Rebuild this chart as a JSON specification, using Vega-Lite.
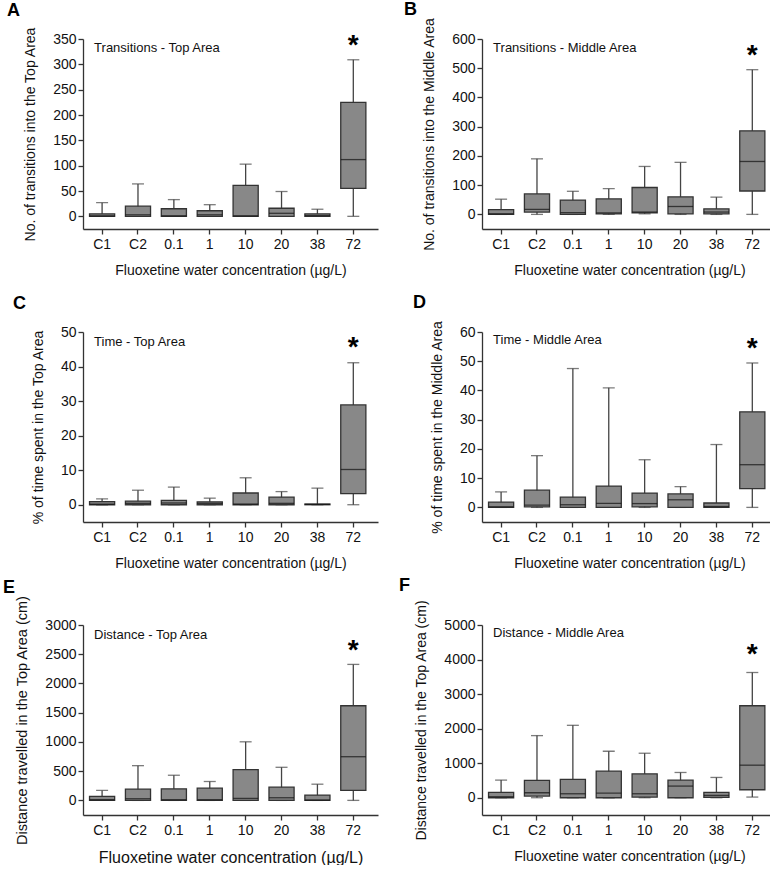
{
"$schema": "https://vega.github.io/schema/vega-lite/v6.json",
"padding": {"left": 3, "top": 1, "right": 0, "bottom": 0},
"background": "white",
"columns": 2,
"bounds": "flush",
"spacing": {"row": 103, "column": 104},
"datasets": {
"A": [
{"group":"C1","min":0,"q1":0,"median":1,"q3":5,"max":27},
{"group":"C2","min":0,"q1":0,"median":3,"q3":20,"max":64},
{"group":"0.1","min":0,"q1":0,"median":1,"q3":15,"max":33},
{"group":"1","min":0,"q1":0,"median":3,"q3":11,"max":23},
{"group":"10","min":0,"q1":0,"median":1,"q3":61,"max":103},
{"group":"20","min":0,"q1":0,"median":6,"q3":16,"max":49},
{"group":"38","min":0,"q1":0,"median":1.5,"q3":5,"max":14},
{"group":"72","min":0,"q1":55,"median":112,"q3":225,"max":309}
],
"B": [
{"group":"C1","min":0,"q1":0,"median":2,"q3":16,"max":52},
{"group":"C2","min":0,"q1":8,"median":17,"q3":70,"max":190},
{"group":"0.1","min":0,"q1":0,"median":6,"q3":49,"max":79},
{"group":"1","min":0,"q1":2,"median":5,"q3":53,"max":88},
{"group":"10","min":2,"q1":5,"median":8,"q3":92,"max":164},
{"group":"20","min":0,"q1":2,"median":27,"q3":60,"max":178},
{"group":"38","min":0,"q1":2,"median":8,"q3":19,"max":59},
{"group":"72","min":0,"q1":80,"median":181,"q3":286,"max":495}
],
"C": [
{"group":"C1","min":0,"q1":0,"median":0.2,"q3":0.9,"max":1.7},
{"group":"C2","min":0,"q1":0,"median":0.4,"q3":1.05,"max":4.2},
{"group":"0.1","min":0,"q1":0,"median":0.5,"q3":1.25,"max":5.1},
{"group":"1","min":0,"q1":0,"median":0.4,"q3":0.85,"max":1.9},
{"group":"10","min":0,"q1":0,"median":0.2,"q3":3.4,"max":7.8},
{"group":"20","min":0,"q1":0,"median":0.4,"q3":2.2,"max":3.8},
{"group":"38","min":0,"q1":0,"median":0.1,"q3":0.2,"max":4.8},
{"group":"72","min":0,"q1":3.2,"median":10.2,"q3":28.9,"max":41.1}
],
"D": [
{"group":"C1","min":0,"q1":0,"median":0.2,"q3":1.8,"max":5.3},
{"group":"C2","min":0,"q1":0.2,"median":0.8,"q3":5.9,"max":17.7},
{"group":"0.1","min":0,"q1":0,"median":0.9,"q3":3.5,"max":47.5},
{"group":"1","min":0,"q1":0,"median":1.4,"q3":7.3,"max":40.9},
{"group":"10","min":0,"q1":0.2,"median":1.3,"q3":4.9,"max":16.3},
{"group":"20","min":0,"q1":0,"median":2.6,"q3":4.6,"max":7.1},
{"group":"38","min":0,"q1":0,"median":0.3,"q3":1.5,"max":21.5},
{"group":"72","min":0,"q1":6.4,"median":14.6,"q3":32.7,"max":49.4}
],
"E": [
{"group":"C1","min":0,"q1":0,"median":11,"q3":68,"max":170},
{"group":"C2","min":0,"q1":0,"median":28,"q3":192,"max":594},
{"group":"0.1","min":0,"q1":0,"median":11,"q3":198,"max":430},
{"group":"1","min":0,"q1":0,"median":11,"q3":209,"max":323},
{"group":"10","min":0,"q1":0,"median":34,"q3":526,"max":1002},
{"group":"20","min":0,"q1":0,"median":45,"q3":226,"max":566},
{"group":"38","min":0,"q1":0,"median":6,"q3":91,"max":277},
{"group":"72","min":0,"q1":170,"median":747,"q3":1619,"max":2326}
],
"F": [
{"group":"C1","min":0,"q1":0,"median":29,"q3":154,"max":510},
{"group":"C2","min":0,"q1":48,"median":144,"q3":500,"max":1798},
{"group":"0.1","min":0,"q1":0,"median":115,"q3":529,"max":2096},
{"group":"1","min":0,"q1":0,"median":135,"q3":769,"max":1346},
{"group":"10","min":0,"q1":19,"median":115,"q3":692,"max":1288},
{"group":"20","min":0,"q1":0,"median":337,"q3":510,"max":731},
{"group":"38","min":0,"q1":10,"median":67,"q3":154,"max":587},
{"group":"72","min":19,"q1":231,"median":942,"q3":2663,"max":3625}
]
},
"concat": [
{
"width": 295, "height": 190,
"data": {"name": "A"},
"resolve": {"axis": {"y": "independent"}},
"encoding": {"x": {"field": "group", "type": "nominal", "scale": {"domain": ["C1","C2","0.1","1","10","20","38","72"], "paddingInner": 0.3, "paddingOuter": 0.26, "align": 0.35}, "axis": {"title": "Fluoxetine water concentration (µg/L)", "labelAngle": 0}}},
"layer": [
{"mark": {"type": "rule", "color": "#444", "strokeWidth": 1.3}, "encoding": {"y": {"field": "min", "type": "quantitative", "title": "No. of transitions into the Top Area", "scale": {"domain": [-25, 350], "nice": false, "zero": false}, "axis": {"values": [0,50,100,150,200,250,300,350], "format": "d"}}, "y2": {"field": "max"}}},
{"mark": {"type": "tick", "color": "#444", "size": 12, "thickness": 1.3}, "encoding": {"y": {"field": "max", "type": "quantitative", "axis": null}}},
{"mark": {"type": "tick", "color": "#444", "size": 12, "thickness": 1.3}, "encoding": {"y": {"field": "min", "type": "quantitative", "axis": null}}},
{"mark": {"type": "bar", "fill": "#888888", "stroke": "#333333", "strokeWidth": 1.3}, "encoding": {"y": {"field": "q1", "type": "quantitative", "axis": null}, "y2": {"field": "q3"}}},
{"mark": {"type": "tick", "color": "#111111", "size": 25, "thickness": 1.3}, "encoding": {"y": {"field": "median", "type": "quantitative", "axis": null}}},
{"data": {"values": [{"label": "Transitions - Top Area"}]}, "mark": {"type": "text", "align": "left", "baseline": "middle", "dx": -8, "dy": 9, "fontSize": 13, "color": "#111"}, "encoding": {"x": {"datum": "C1", "type": "nominal"}, "y": {"datum": 350, "type": "quantitative", "axis": null}, "text": {"field": "label"}}},
{"data": {"values": [{"label": "A"}]}, "mark": {"type": "text", "align": "left", "baseline": "alphabetic", "dx": -95, "dy": -23, "fontSize": 18, "fontWeight": "bold", "color": "#000"}, "encoding": {"x": {"datum": "C1", "type": "nominal"}, "y": {"datum": 350, "type": "quantitative", "axis": null}, "text": {"field": "label"}}},
{"data": {"values": [{"s": "*"}]}, "mark": {"type": "text", "fontSize": 28, "fontWeight": "bold", "baseline": "alphabetic", "dy": 13, "color": "#000"}, "encoding": {"x": {"datum": "72", "type": "nominal"}, "y": {"datum": 347, "type": "quantitative", "axis": null}, "text": {"field": "s"}}}
]
},
{
"width": 295, "height": 190,
"data": {"name": "B"},
"resolve": {"axis": {"y": "independent"}},
"encoding": {"x": {"field": "group", "type": "nominal", "scale": {"domain": ["C1","C2","0.1","1","10","20","38","72"], "paddingInner": 0.3, "paddingOuter": 0.26, "align": 0.35}, "axis": {"title": "Fluoxetine water concentration (µg/L)", "labelAngle": 0}}},
"layer": [
{"mark": {"type": "rule", "color": "#444", "strokeWidth": 1.3}, "encoding": {"y": {"field": "min", "type": "quantitative", "title": "No. of transitions into the Middle Area", "scale": {"domain": [-50, 600], "nice": false, "zero": false}, "axis": {"values": [0,100,200,300,400,500,600], "format": "d"}}, "y2": {"field": "max"}}},
{"mark": {"type": "tick", "color": "#444", "size": 12, "thickness": 1.3}, "encoding": {"y": {"field": "max", "type": "quantitative", "axis": null}}},
{"mark": {"type": "tick", "color": "#444", "size": 12, "thickness": 1.3}, "encoding": {"y": {"field": "min", "type": "quantitative", "axis": null}}},
{"mark": {"type": "bar", "fill": "#888888", "stroke": "#333333", "strokeWidth": 1.3}, "encoding": {"y": {"field": "q1", "type": "quantitative", "axis": null}, "y2": {"field": "q3"}}},
{"mark": {"type": "tick", "color": "#111111", "size": 25, "thickness": 1.3}, "encoding": {"y": {"field": "median", "type": "quantitative", "axis": null}}},
{"data": {"values": [{"label": "Transitions - Middle Area"}]}, "mark": {"type": "text", "align": "left", "baseline": "middle", "dx": -8, "dy": 9, "fontSize": 13, "color": "#111"}, "encoding": {"x": {"datum": "C1", "type": "nominal"}, "y": {"datum": 600, "type": "quantitative", "axis": null}, "text": {"field": "label"}}},
{"data": {"values": [{"label": "B"}]}, "mark": {"type": "text", "align": "left", "baseline": "alphabetic", "dx": -97, "dy": -24, "fontSize": 18, "fontWeight": "bold", "color": "#000"}, "encoding": {"x": {"datum": "C1", "type": "nominal"}, "y": {"datum": 600, "type": "quantitative", "axis": null}, "text": {"field": "label"}}},
{"data": {"values": [{"s": "*"}]}, "mark": {"type": "text", "fontSize": 28, "fontWeight": "bold", "baseline": "alphabetic", "dy": 13, "color": "#000"}, "encoding": {"x": {"datum": "72", "type": "nominal"}, "y": {"datum": 558, "type": "quantitative", "axis": null}, "text": {"field": "s"}}}
]
},
{
"width": 295, "height": 190,
"data": {"name": "C"},
"resolve": {"axis": {"y": "independent"}},
"encoding": {"x": {"field": "group", "type": "nominal", "scale": {"domain": ["C1","C2","0.1","1","10","20","38","72"], "paddingInner": 0.3, "paddingOuter": 0.26, "align": 0.35}, "axis": {"title": "Fluoxetine water concentration (µg/L)", "labelAngle": 0}}},
"layer": [
{"mark": {"type": "rule", "color": "#444", "strokeWidth": 1.3}, "encoding": {"y": {"field": "min", "type": "quantitative", "title": "% of time spent in the Top Area", "scale": {"domain": [-5, 50], "nice": false, "zero": false}, "axis": {"values": [0,10,20,30,40,50], "format": "d"}}, "y2": {"field": "max"}}},
{"mark": {"type": "tick", "color": "#444", "size": 12, "thickness": 1.3}, "encoding": {"y": {"field": "max", "type": "quantitative", "axis": null}}},
{"mark": {"type": "tick", "color": "#444", "size": 12, "thickness": 1.3}, "encoding": {"y": {"field": "min", "type": "quantitative", "axis": null}}},
{"mark": {"type": "bar", "fill": "#888888", "stroke": "#333333", "strokeWidth": 1.3}, "encoding": {"y": {"field": "q1", "type": "quantitative", "axis": null}, "y2": {"field": "q3"}}},
{"mark": {"type": "tick", "color": "#111111", "size": 25, "thickness": 1.3}, "encoding": {"y": {"field": "median", "type": "quantitative", "axis": null}}},
{"data": {"values": [{"label": "Time - Top Area"}]}, "mark": {"type": "text", "align": "left", "baseline": "middle", "dx": -8, "dy": 10, "fontSize": 13, "color": "#111"}, "encoding": {"x": {"datum": "C1", "type": "nominal"}, "y": {"datum": 50, "type": "quantitative", "axis": null}, "text": {"field": "label"}}},
{"data": {"values": [{"label": "C"}]}, "mark": {"type": "text", "align": "left", "baseline": "alphabetic", "dx": -89, "dy": -23, "fontSize": 18, "fontWeight": "bold", "color": "#000"}, "encoding": {"x": {"datum": "C1", "type": "nominal"}, "y": {"datum": 50, "type": "quantitative", "axis": null}, "text": {"field": "label"}}},
{"data": {"values": [{"s": "*"}]}, "mark": {"type": "text", "fontSize": 28, "fontWeight": "bold", "baseline": "alphabetic", "dy": 13, "color": "#000"}, "encoding": {"x": {"datum": "72", "type": "nominal"}, "y": {"datum": 46.7, "type": "quantitative", "axis": null}, "text": {"field": "s"}}}
]
},
{
"width": 295, "height": 190,
"data": {"name": "D"},
"resolve": {"axis": {"y": "independent"}},
"encoding": {"x": {"field": "group", "type": "nominal", "scale": {"domain": ["C1","C2","0.1","1","10","20","38","72"], "paddingInner": 0.3, "paddingOuter": 0.26, "align": 0.35}, "axis": {"title": "Fluoxetine water concentration (µg/L)", "labelAngle": 0}}},
"layer": [
{"mark": {"type": "rule", "color": "#444", "strokeWidth": 1.3}, "encoding": {"y": {"field": "min", "type": "quantitative", "title": "% of time spent in the Middle Area", "scale": {"domain": [-5, 60], "nice": false, "zero": false}, "axis": {"values": [0,10,20,30,40,50,60], "format": "d"}}, "y2": {"field": "max"}}},
{"mark": {"type": "tick", "color": "#444", "size": 12, "thickness": 1.3}, "encoding": {"y": {"field": "max", "type": "quantitative", "axis": null}}},
{"mark": {"type": "tick", "color": "#444", "size": 12, "thickness": 1.3}, "encoding": {"y": {"field": "min", "type": "quantitative", "axis": null}}},
{"mark": {"type": "bar", "fill": "#888888", "stroke": "#333333", "strokeWidth": 1.3}, "encoding": {"y": {"field": "q1", "type": "quantitative", "axis": null}, "y2": {"field": "q3"}}},
{"mark": {"type": "tick", "color": "#111111", "size": 25, "thickness": 1.3}, "encoding": {"y": {"field": "median", "type": "quantitative", "axis": null}}},
{"data": {"values": [{"label": "Time - Middle Area"}]}, "mark": {"type": "text", "align": "left", "baseline": "middle", "dx": -8, "dy": 8, "fontSize": 13, "color": "#111"}, "encoding": {"x": {"datum": "C1", "type": "nominal"}, "y": {"datum": 60, "type": "quantitative", "axis": null}, "text": {"field": "label"}}},
{"data": {"values": [{"label": "D"}]}, "mark": {"type": "text", "align": "left", "baseline": "alphabetic", "dx": -88, "dy": -24, "fontSize": 18, "fontWeight": "bold", "color": "#000"}, "encoding": {"x": {"datum": "C1", "type": "nominal"}, "y": {"datum": 60, "type": "quantitative", "axis": null}, "text": {"field": "label"}}},
{"data": {"values": [{"s": "*"}]}, "mark": {"type": "text", "fontSize": 28, "fontWeight": "bold", "baseline": "alphabetic", "dy": 13, "color": "#000"}, "encoding": {"x": {"datum": "72", "type": "nominal"}, "y": {"datum": 56, "type": "quantitative", "axis": null}, "text": {"field": "s"}}}
]
},
{
"width": 295, "height": 190,
"data": {"name": "E"},
"resolve": {"axis": {"y": "independent"}},
"encoding": {"x": {"field": "group", "type": "nominal", "scale": {"domain": ["C1","C2","0.1","1","10","20","38","72"], "paddingInner": 0.3, "paddingOuter": 0.26, "align": 0.35}, "axis": {"title": "Fluoxetine water concentration (µg/L)", "labelAngle": 0, "titleFontSize": 16}}},
"layer": [
{"mark": {"type": "rule", "color": "#444", "strokeWidth": 1.3}, "encoding": {"y": {"field": "min", "type": "quantitative", "title": "Distance travelled in the Top Area (cm)", "scale": {"domain": [-250, 3000], "nice": false, "zero": false}, "axis": {"values": [0,500,1000,1500,2000,2500,3000], "format": "d", "titleFontSize": 14.5}}, "y2": {"field": "max"}}},
{"mark": {"type": "tick", "color": "#444", "size": 12, "thickness": 1.3}, "encoding": {"y": {"field": "max", "type": "quantitative", "axis": null}}},
{"mark": {"type": "tick", "color": "#444", "size": 12, "thickness": 1.3}, "encoding": {"y": {"field": "min", "type": "quantitative", "axis": null}}},
{"mark": {"type": "bar", "fill": "#888888", "stroke": "#333333", "strokeWidth": 1.3}, "encoding": {"y": {"field": "q1", "type": "quantitative", "axis": null}, "y2": {"field": "q3"}}},
{"mark": {"type": "tick", "color": "#111111", "size": 25, "thickness": 1.3}, "encoding": {"y": {"field": "median", "type": "quantitative", "axis": null}}},
{"data": {"values": [{"label": "Distance - Top Area"}]}, "mark": {"type": "text", "align": "left", "baseline": "middle", "dx": -8, "dy": 10, "fontSize": 13, "color": "#111"}, "encoding": {"x": {"datum": "C1", "type": "nominal"}, "y": {"datum": 3000, "type": "quantitative", "axis": null}, "text": {"field": "label"}}},
{"data": {"values": [{"label": "E"}]}, "mark": {"type": "text", "align": "left", "baseline": "alphabetic", "dx": -99, "dy": -32, "fontSize": 18, "fontWeight": "bold", "color": "#000"}, "encoding": {"x": {"datum": "C1", "type": "nominal"}, "y": {"datum": 3000, "type": "quantitative", "axis": null}, "text": {"field": "label"}}},
{"data": {"values": [{"s": "*"}]}, "mark": {"type": "text", "fontSize": 28, "fontWeight": "bold", "baseline": "alphabetic", "dy": 13, "color": "#000"}, "encoding": {"x": {"datum": "72", "type": "nominal"}, "y": {"datum": 2648, "type": "quantitative", "axis": null}, "text": {"field": "s"}}}
]
},
{
"width": 295, "height": 190,
"data": {"name": "F"},
"resolve": {"axis": {"y": "independent"}},
"encoding": {"x": {"field": "group", "type": "nominal", "scale": {"domain": ["C1","C2","0.1","1","10","20","38","72"], "paddingInner": 0.3, "paddingOuter": 0.26, "align": 0.35}, "axis": {"title": "Fluoxetine water concentration (µg/L)", "labelAngle": 0}}},
"layer": [
{"mark": {"type": "rule", "color": "#444", "strokeWidth": 1.3}, "encoding": {"y": {"field": "min", "type": "quantitative", "title": "Distance travelled in the Top Area (cm)", "scale": {"domain": [-500, 5000], "nice": false, "zero": false}, "axis": {"values": [0,1000,2000,3000,4000,5000], "format": "d"}}, "y2": {"field": "max"}}},
{"mark": {"type": "tick", "color": "#444", "size": 12, "thickness": 1.3}, "encoding": {"y": {"field": "max", "type": "quantitative", "axis": null}}},
{"mark": {"type": "tick", "color": "#444", "size": 12, "thickness": 1.3}, "encoding": {"y": {"field": "min", "type": "quantitative", "axis": null}}},
{"mark": {"type": "bar", "fill": "#888888", "stroke": "#333333", "strokeWidth": 1.3}, "encoding": {"y": {"field": "q1", "type": "quantitative", "axis": null}, "y2": {"field": "q3"}}},
{"mark": {"type": "tick", "color": "#111111", "size": 25, "thickness": 1.3}, "encoding": {"y": {"field": "median", "type": "quantitative", "axis": null}}},
{"data": {"values": [{"label": "Distance - Middle Area"}]}, "mark": {"type": "text", "align": "left", "baseline": "middle", "dx": -8, "dy": 8, "fontSize": 13, "color": "#111"}, "encoding": {"x": {"datum": "C1", "type": "nominal"}, "y": {"datum": 5000, "type": "quantitative", "axis": null}, "text": {"field": "label"}}},
{"data": {"values": [{"label": "F"}]}, "mark": {"type": "text", "align": "left", "baseline": "alphabetic", "dx": -102, "dy": -34, "fontSize": 18, "fontWeight": "bold", "color": "#000"}, "encoding": {"x": {"datum": "C1", "type": "nominal"}, "y": {"datum": 5000, "type": "quantitative", "axis": null}, "text": {"field": "label"}}},
{"data": {"values": [{"s": "*"}]}, "mark": {"type": "text", "fontSize": 28, "fontWeight": "bold", "baseline": "alphabetic", "dy": 13, "color": "#000"}, "encoding": {"x": {"datum": "72", "type": "nominal"}, "y": {"datum": 4269, "type": "quantitative", "axis": null}, "text": {"field": "s"}}}
]
}
],
"config": {
"font": "Liberation Sans",
"view": {"stroke": null},
"axis": {"grid": false, "domainColor": "#333333", "domainWidth": 1.3, "tickColor": "#333333", "tickWidth": 1.3, "tickSize": 5, "labelFont": "Liberation Sans", "labelFontSize": 14, "labelColor": "#111111", "titleFont": "Liberation Sans", "titleFontSize": 14, "titleFontWeight": "normal", "titleColor": "#111111"},
"axisX": {"labelPadding": 3, "titlePadding": 12},
"axisY": {"labelPadding": 2, "titlePadding": 15}
}
}
